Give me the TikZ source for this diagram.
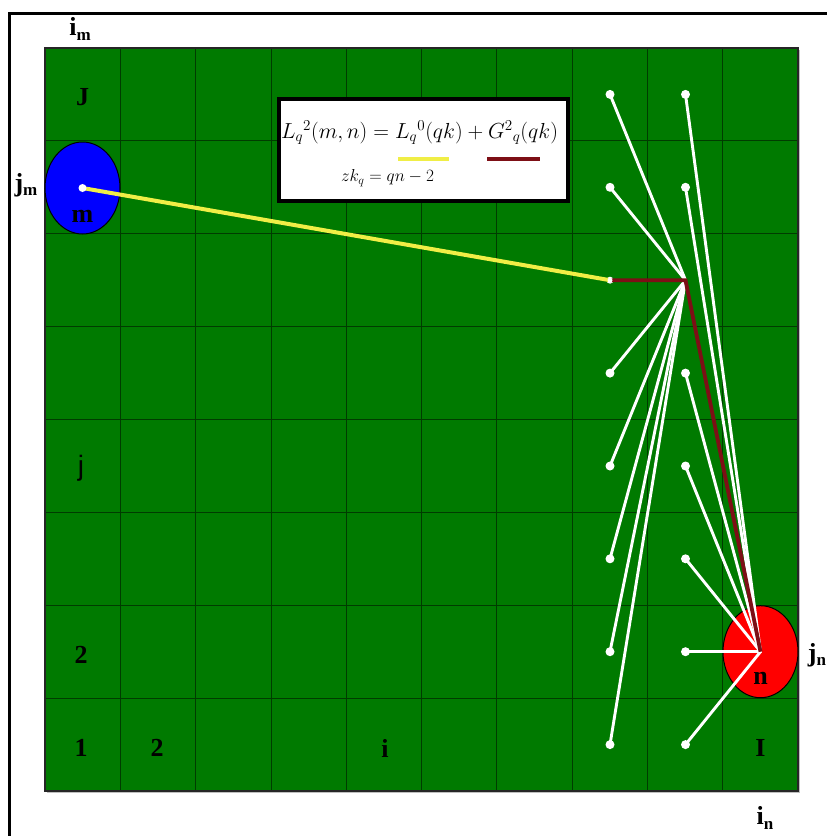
\documentclass[tikz,border=0pt]{standalone}
\usepackage{fontspec}
\setmainfont{Liberation Serif}
\newfontfamily\cellsans{Liberation Sans}
\usepackage{graphicx}
\usepackage{tikz}
\usetikzlibrary{shapes}

\definecolor{fieldgreen}{RGB}{0,122,0}
\definecolor{gridline}{RGB}{0,60,0}
\definecolor{pathyellow}{RGB}{240,238,70}
\definecolor{pathred}{RGB}{125,15,22}

\begin{document}
\begin{tikzpicture}[x=1pt, y=-1pt]
	\tikzstyle{knot} = [circle, fill=white, inner sep=0pt, minimum size=9pt]
	\tikzstyle{oval} = [ellipse, draw=black, line width=1pt, minimum width=75pt, minimum height=92pt, inner sep=0pt]
	\tikzstyle{lbl} = [font=\fontsize{26}{28}\selectfont\bfseries, inner sep=0pt]
	\tikzstyle{ray} = [draw=white, line width=2.9pt, line cap=round]
	
	\useasboundingbox (0,0) rectangle (827,836);
	\fill[white] (0,0) rectangle (827,836);
	\draw[line width=3.5pt] (9.3,836) -- (9.3,13.5) -- (827,13.5);
	
	\fill[black!25] (47,50) rectangle (800,793);
	\fill[fieldgreen] (45,48) rectangle (798,791);
	\begin{scope}[shift={(45,48)}]
		\draw[gridline, line width=0.8pt, xstep=75.3pt, ystep=92.875pt] (0,743) grid (753,0);
	\end{scope}
	\draw[black!85, line width=1.4pt] (45,48) rectangle (798,791);
	
	\node [oval, fill=blue] (m) at (82.5,188) {};
	\node [oval, fill=red] (n) at (760.5,651.7) {};
	
	\node [knot] (a1) at (610,94.4) {};
	\node [knot] (a2) at (610,187.3) {};
	\node [knot, minimum size=7pt] (a3) at (610,280.2) {};
	\node [knot] (a4) at (610,373.1) {};
	\node [knot] (a5) at (610,466) {};
	\node [knot] (a6) at (610,558.8) {};
	\node [knot] (a7) at (610,651.7) {};
	\node [knot] (a8) at (610,744.6) {};
	\node [knot] (b1) at (685.5,94.4) {};
	\node [knot] (b2) at (685.5,187.3) {};
	\coordinate (b3) at (685.5,280.2);
	\node [knot] (b4) at (685.5,373.1) {};
	\node [knot] (b5) at (685.5,466) {};
	\node [knot] (b6) at (685.5,558.8) {};
	\node [knot] (b7) at (685.5,651.7) {};
	\node [knot] (b8) at (685.5,744.6) {};
	
	\path [ray] (b3) -- (a1.center);
	\path [ray] (b3) -- (a2.center);
	\path [ray] (b3) -- (a4.center);
	\path [ray] (b3) -- (a5.center);
	\path [ray] (b3) -- (a6.center);
	\path [ray] (b3) -- (a7.center);
	\path [ray] (b3) -- (a8.center);
	\path [ray] (n.center) -- (b1.center);
	\path [ray] (n.center) -- (b2.center);
	\path [ray] (n.center) -- (b4.center);
	\path [ray] (n.center) -- (b5.center);
	\path [ray] (n.center) -- (b6.center);
	\path [ray] (n.center) -- (b7.center);
	\path [ray] (n.center) -- (b8.center);
	
	\path [draw=pathyellow, line width=4pt] (m.center) -- (a3.center);
	\path [draw=pathred, line width=3.8pt, line join=miter] (a3.center) -- (b3) -- (n.center);
	\node [knot, minimum size=8pt] at (m.center) {};
	\node [circle, fill=white, inner sep=0pt, minimum size=5pt] at (a3.center) {};
	
	\node [draw, line width=4pt, fill=white, minimum width=289pt, minimum height=102pt] (formula) at (423.5,150) {};
	\node [font=\fontsize{20.3}{24}\selectfont] (law) at (419.5,133) {\scalebox{1.05}{$L_{q}{}^{2}(m,n)=L_{q}{}^{0}(qk)+G^{2}{}_{q}(qk)$}};
	\node [font=\fontsize{18}{20}\selectfont] (rule) at (387.5,178) {$zk_{q}=qn-2$};
	\draw [pathyellow, line width=4pt] (398,159) -- (449,159);
	\draw [pathred, line width=4pt] (487,159) -- (540,159);
	
	\node [lbl] (top) at (82.5,97) {J};
	\node [lbl] (mlabel) at (82.5,216) {m};
	\node [font=\fontsize{28}{28}\selectfont\cellsans, inner sep=0pt] (mid) at (81,468) {j};
	\node [lbl] (two) at (81,655) {2};
	\node [lbl] (one) at (81,748) {1};
	\node [lbl] (col2) at (157,748) {2};
	\node [lbl] (coli) at (385,748) {i};
	\node [lbl] (last) at (760.5,748) {I};
	\node [lbl] (nlabel) at (760.5,678) {n};
	
	\node [lbl] (im) at (80,29) {i\raisebox{-0.35ex}{\fontsize{17}{18}\selectfont m}};
	\node [lbl] (jm) at (26,185) {j\raisebox{-0.35ex}{\fontsize{17}{18}\selectfont m}};
	\node [lbl] (jn) at (817,655) {j\raisebox{-0.35ex}{\fontsize{17}{18}\selectfont n}};
	\node [lbl] (in) at (765,818) {i\raisebox{-0.35ex}{\fontsize{17}{18}\selectfont n}};
	
\end{tikzpicture}
\end{document}
